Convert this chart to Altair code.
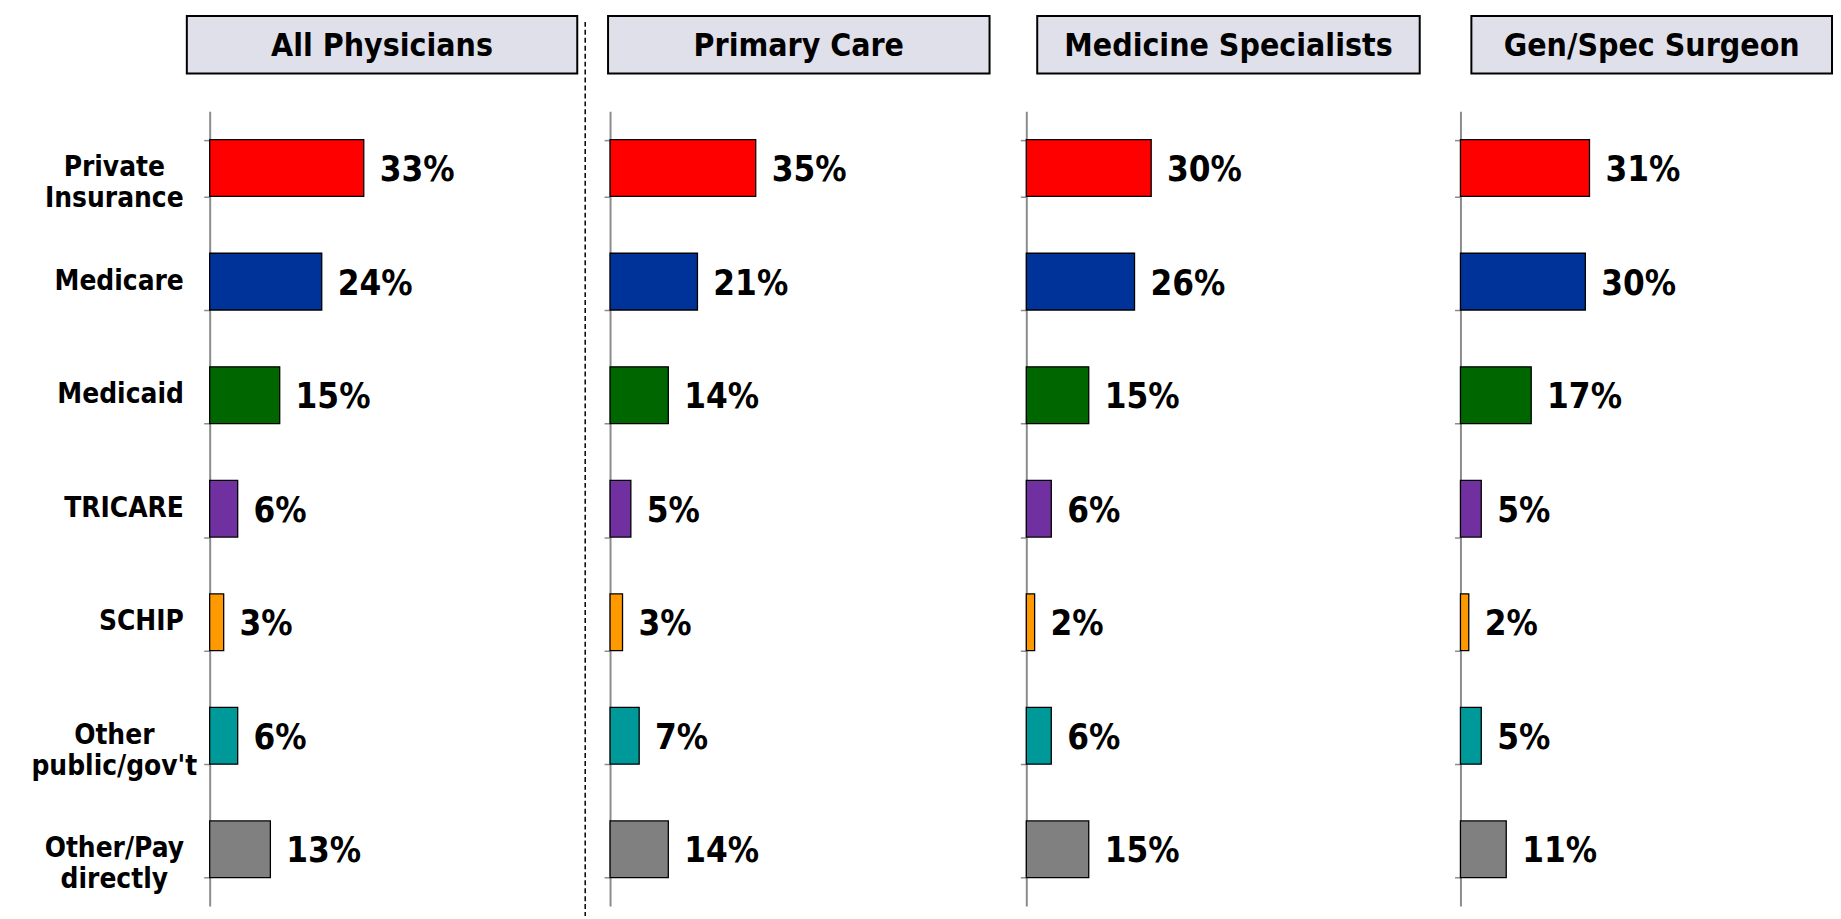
import altair as alt
import pandas as pd

FONT = "DejaVu Sans Condensed"

categories = ["Private\nInsurance", "Medicare", "Medicaid", "TRICARE", "SCHIP",
              "Other\npublic/gov't", "Other/Pay\ndirectly"]
colors = ["#FF0000", "#003399", "#006600", "#7030A0", "#FF9900", "#009999", "#808080"]

panel_names = ["All Physicians", "Primary Care", "Medicine Specialists", "Gen/Spec Surgeon"]
all_physicians = [33, 24, 15, 6, 3, 6, 13]
primary_care = [35, 21, 14, 5, 3, 7, 14]
medicine_specialists = [30, 26, 15, 6, 2, 6, 15]
gen_spec_surgeon = [31, 30, 17, 5, 2, 5, 11]

H = 800
BOX_TOP, BOX_BOT = -96, -38


def panel(name, values, width, px_per_pct, box_x0, box_x1, first=False):
    df = pd.DataFrame({
        "cat": categories,
        "val": values,
        "color": colors,
        "label": [f"{v}%" for v in values],
        "multi": [1 if "\n" in c else 0 for c in categories],
    })
    xscale = alt.Scale(domain=[0, width / px_per_pct], nice=False, zero=True)
    axis = alt.Axis(title=None, labels=False,
                    tickBand="extent", tickSize=6, tickColor="#8c8c8c", tickWidth=1.5,
                    domainColor="#8c8c8c", domainWidth=2,
                    minExtent=203 if first else 20, maxExtent=203 if first else 20)
    y = alt.Y("cat:N", sort=categories,
              scale=alt.Scale(paddingInner=0.5, paddingOuter=0.25), axis=axis)
    ynoaxis = alt.Y("cat:N", sort=categories)
    bars = alt.Chart(df).mark_bar(stroke="black", strokeWidth=1.3).encode(
        x=alt.X("val:Q", scale=xscale, axis=None),
        y=y,
        color=alt.Color("color:N", scale=None),
    )
    text = alt.Chart(df).mark_text(align="left", baseline="middle", dx=16, dy=2,
                                   fontSize=35, fontWeight="bold", font=FONT,
                                   color="black").encode(
        x=alt.X("val:Q", scale=xscale, axis=None),
        y=ynoaxis,
        text="label:N",
    )
    tdf = pd.DataFrame({"t": [name]})
    box = alt.Chart(tdf).mark_rect(fill="#E0E0EA", stroke="black", strokeWidth=2).encode(
        x=alt.value(box_x0), x2=alt.value(box_x1),
        y=alt.value(BOX_TOP), y2=alt.value(BOX_BOT),
    )
    ttext = alt.Chart(tdf).mark_text(fontSize=32, fontWeight="bold", font=FONT,
                                     baseline="middle", align="center",
                                     color="black").encode(
        x=alt.value((box_x0 + box_x1) / 2), y=alt.value((BOX_TOP + BOX_BOT) / 2 + 1),
        text="t:N",
    )
    layers = [bars, text, box, ttext]
    if first:
        single = alt.Chart(df).transform_filter(alt.datum.multi == 0).mark_text(
            align="right", baseline="middle", fontSize=28, fontWeight="bold",
            font=FONT, color="black",
        ).encode(x=alt.value(-26), y=ynoaxis, text="cat:N")
        multi = alt.Chart(df).transform_filter(alt.datum.multi == 1).mark_text(
            align="center", baseline="middle", fontSize=28, fontWeight="bold",
            font=FONT, color="black", lineBreak="\n", lineHeight=31,
        ).encode(x=alt.value(-96), y=ynoaxis, text="cat:N")
        sep = alt.Chart(tdf).mark_rule(stroke="black", strokeDash=[5, 3],
                                       strokeWidth=1.5).encode(
            x=alt.value(378), y=alt.value(-90), y2=alt.value(H + 10),
        )
        layers += [single, multi, sep]
    return alt.layer(*layers).properties(width=width, height=H)


p1 = panel(panel_names[0], all_physicians, 383, 4.7, -23, 370, first=True)
p2 = panel(panel_names[1], primary_care, 399, 4.19, -2, 382)
p3 = panel(panel_names[2], medicine_specialists, 417, 4.19, 11, 396)
p4 = panel(panel_names[3], gen_spec_surgeon, 374, 4.19, 11, 374)

chart = alt.hconcat(p1, p2, p3, p4, spacing=0).resolve_scale(
    x="independent", y="independent"
).properties(
    padding={"left": 0, "top": 4, "right": 0, "bottom": 0}
).configure_view(stroke=None)

chart.save("out.html", embed_options={"renderer": "svg", "actions": False})
